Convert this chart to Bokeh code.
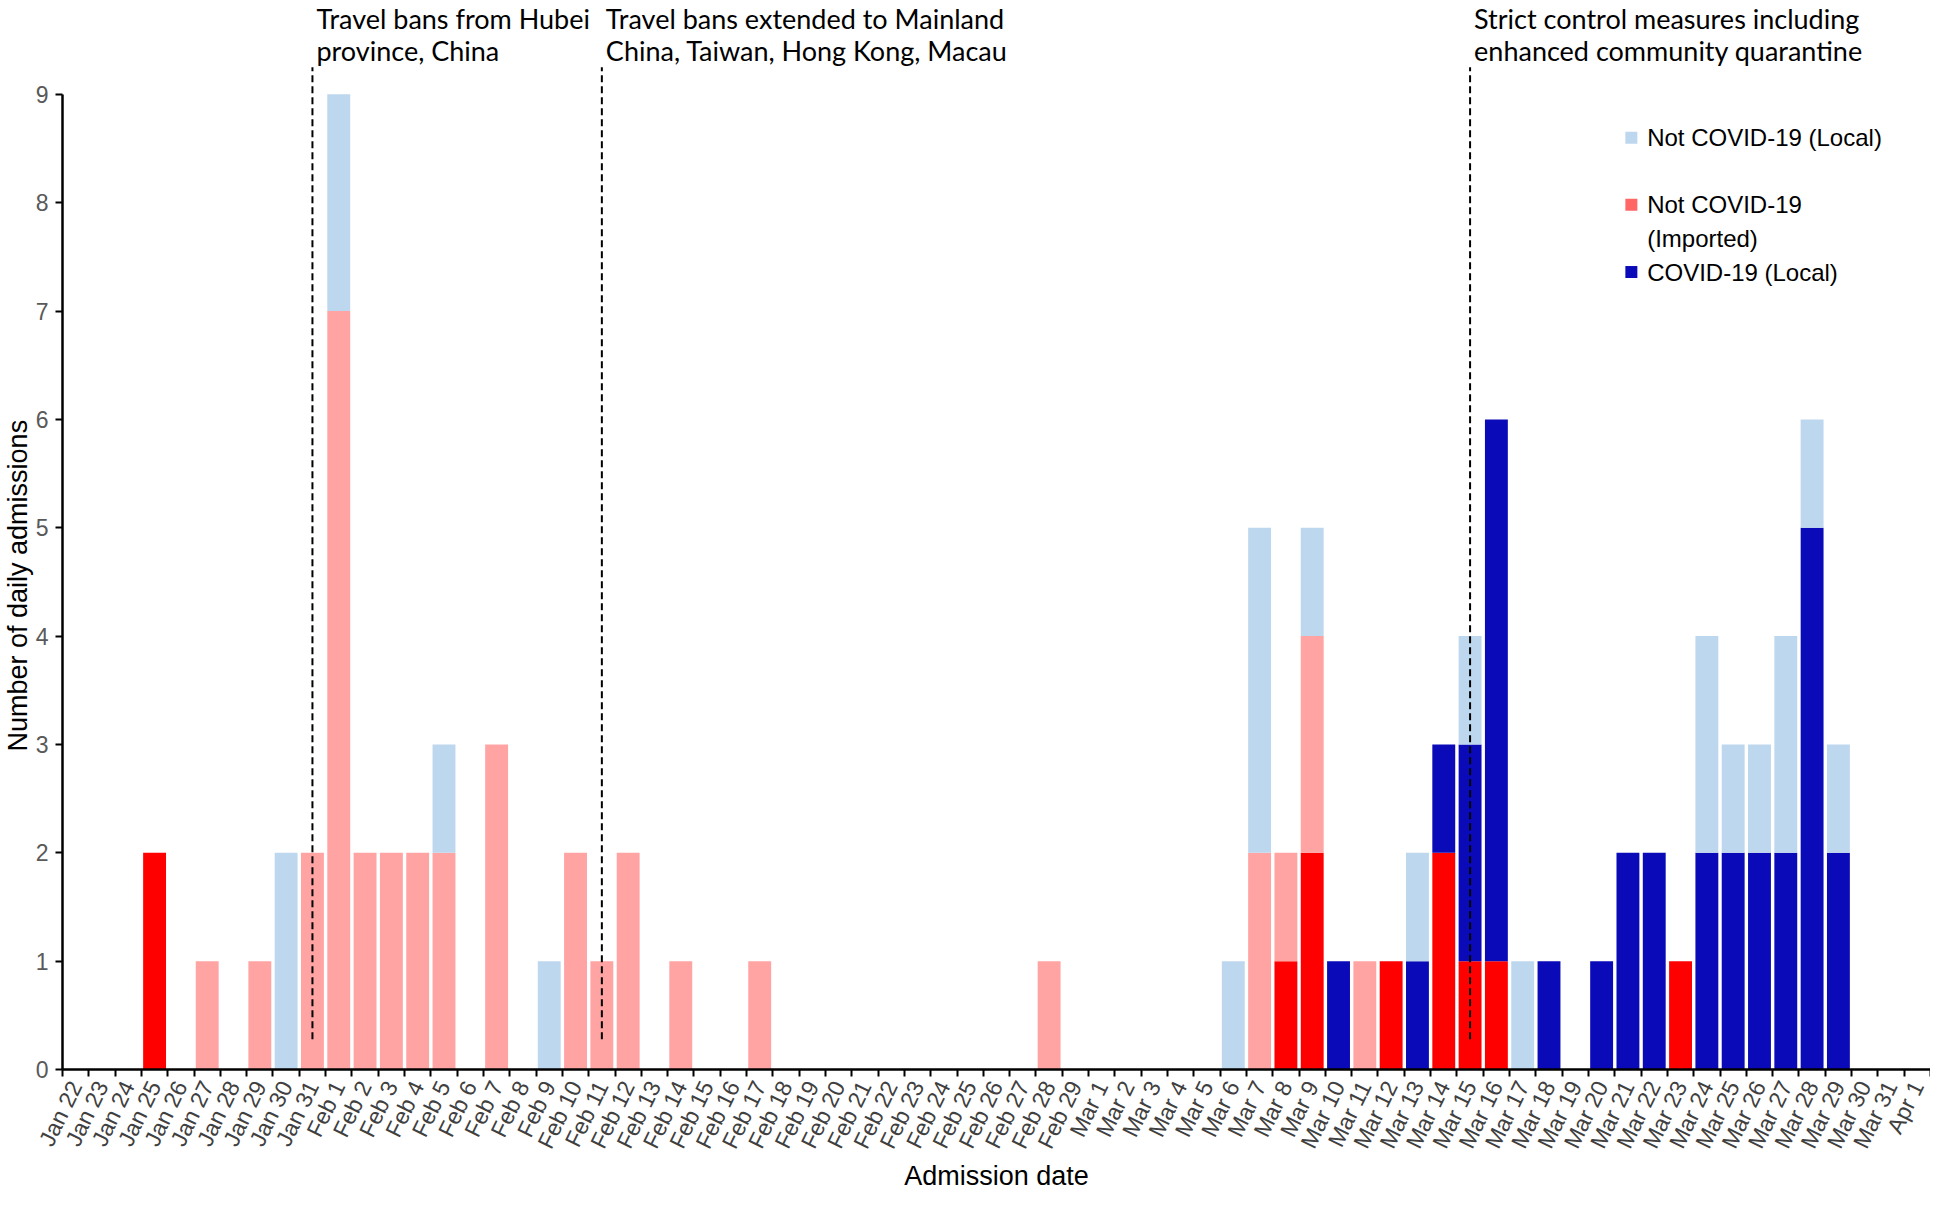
from bokeh.plotting import figure
from bokeh.models import Range1d, FixedTicker, ColumnDataSource, Title
from bokeh.core.properties import value
from bokeh.embed import file_html
from bokeh.resources import INLINE

# ---------------- data ----------------
dates = [
    "Jan 22", "Jan 23", "Jan 24", "Jan 25", "Jan 26", "Jan 27", "Jan 28", "Jan 29", "Jan 30", "Jan 31",
    "Feb 1", "Feb 2", "Feb 3", "Feb 4", "Feb 5", "Feb 6", "Feb 7", "Feb 8", "Feb 9", "Feb 10",
    "Feb 11", "Feb 12", "Feb 13", "Feb 14", "Feb 15", "Feb 16", "Feb 17", "Feb 18", "Feb 19", "Feb 20",
    "Feb 21", "Feb 22", "Feb 23", "Feb 24", "Feb 25", "Feb 26", "Feb 27", "Feb 28", "Feb 29",
    "Mar 1", "Mar 2", "Mar 3", "Mar 4", "Mar 5", "Mar 6", "Mar 7", "Mar 8", "Mar 9", "Mar 10",
    "Mar 11", "Mar 12", "Mar 13", "Mar 14", "Mar 15", "Mar 16", "Mar 17", "Mar 18", "Mar 19", "Mar 20",
    "Mar 21", "Mar 22", "Mar 23", "Mar 24", "Mar 25", "Mar 26", "Mar 27", "Mar 28", "Mar 29", "Mar 30",
    "Mar 31", "Apr 1",
]

# counts per admission date (dates not listed = 0)
imported_red = {"Jan 25": 2, "Mar 8": 1, "Mar 9": 2, "Mar 12": 1, "Mar 14": 2,
                "Mar 15": 1, "Mar 16": 1, "Mar 23": 1}
imported_pink = {"Jan 27": 1, "Jan 29": 1, "Jan 31": 2, "Feb 1": 7, "Feb 2": 2, "Feb 3": 2,
                 "Feb 4": 2, "Feb 5": 2, "Feb 7": 3, "Feb 10": 2, "Feb 11": 1, "Feb 12": 2,
                 "Feb 14": 1, "Feb 17": 1, "Feb 28": 1, "Mar 7": 2, "Mar 8": 1, "Mar 9": 2,
                 "Mar 11": 1}
covid_local = {"Mar 10": 1, "Mar 13": 1, "Mar 14": 1, "Mar 15": 2, "Mar 16": 5, "Mar 18": 1,
               "Mar 20": 1, "Mar 21": 2, "Mar 22": 2, "Mar 24": 2, "Mar 25": 2, "Mar 26": 2,
               "Mar 27": 2, "Mar 28": 5, "Mar 29": 2}
not_covid_local = {"Jan 30": 2, "Feb 1": 2, "Feb 5": 1, "Feb 9": 1, "Mar 6": 1, "Mar 7": 3,
                   "Mar 9": 1, "Mar 13": 1, "Mar 15": 1, "Mar 17": 1, "Mar 24": 2, "Mar 25": 1,
                   "Mar 26": 1, "Mar 27": 2, "Mar 28": 1, "Mar 29": 1}

event_dates = ["Jan 31", "Feb 11", "Mar 15"]
event_lines = [
    ["Travel bans from Hubei", "province, China"],
    ["Travel bans extended to Mainland", "China, Taiwan, Hong Kong, Macau"],
    ["Strict control measures including", "enhanced community quarantine"],
]

legend_labels = [["Not COVID-19 (Local)"], ["Not COVID-19", "(Imported)"], ["COVID-19 (Local)"]]
legend_colors = ["#BDD7EE", "#FF6666", "#0A0AB8"]

# ---------------- build ----------------
n = len(dates)
xs = [i + 0.5 for i in range(n)]
src = ColumnDataSource(dict(
    x=xs,
    red=[imported_red.get(d, 0) for d in dates],
    pink=[imported_pink.get(d, 0) for d in dates],
    dblue=[covid_local.get(d, 0) for d in dates],
    lblue=[not_covid_local.get(d, 0) for d in dates],
))

p = figure(width=1930, height=1194, x_range=Range1d(0, n), y_range=Range1d(0, 9.866),
           output_backend="svg", toolbar_location=None,
           min_border_top=0, min_border_right=0, min_border_left=0, min_border_bottom=0)
p.outline_line_color = None
p.grid.visible = False
p.background_fill_color = "white"

p.vbar_stack(["red", "pink", "dblue", "lblue"], x="x", width=0.87,
             color=["#FF0000", "#FFA3A3", "#0A0AB8", "#BDD7EE"],
             line_color=None, source=src)

# dashed event lines
ev_x = [dates.index(d) + 0.5 for d in event_dates]
p.segment(x0=ev_x, x1=ev_x, y0=[0.28] * 3, y1=[9.25] * 3,
          line_color="black", line_width=2, line_dash="7 4")

# event annotations
ax, ay, at = [], [], []
for x, lines in zip(ev_x, event_lines):
    for k, t in enumerate(lines):
        ax.append(x)
        ay.append(9.70 - 0.295 * k)
        at.append(t)
p.text(x=ax, y=ay, text=at, x_offset=4, text_font=value("Lato"), text_font_size="27px",
       text_color="black", text_baseline="alphabetic", text_align="left")

# legend (drawn manually to match layout)
leg_y = [[8.60], [7.98, 7.67], [7.36]]
mx, my, mc, tx, ty, tt = [], [], [], [], [], []
for labs, ys, c in zip(legend_labels, leg_y, legend_colors):
    mx.append(59.63)
    my.append(ys[0])
    mc.append(c)
    for lab, yy in zip(labs, ys):
        tx.append(60.23)
        ty.append(yy)
        tt.append(lab)
p.scatter(x=mx, y=my, marker="square", size=12, color=mc, line_color=None)
p.text(x=tx, y=ty, text=tt, text_font=value("Liberation Sans"), text_font_size="24px",
       text_color="black", text_baseline="middle", text_align="left")

# x axis
xa = p.xaxis[0]
xa.ticker = FixedTicker(ticks=xs, minor_ticks=list(range(n + 1)))
xa.major_label_overrides = {x: d for x, d in zip(xs, dates)}
xa.major_label_orientation = 1.117
xa.major_tick_line_color = None
xa.major_tick_out = 7
xa.minor_tick_line_color = "black"
xa.minor_tick_line_width = 2
xa.minor_tick_out = 7
xa.minor_tick_in = 0
xa.axis_line_width = 2.5
xa.axis_line_color = "black"
xa.bounds = (0, n)
xa.major_label_text_font = "Liberation Sans"
xa.major_label_text_font_style = "normal"
xa.major_label_text_font_size = "23px"
xa.major_label_text_color = "#404040"
xa.major_label_standoff = 6
xa.axis_label = "Admission date"
xa.axis_label_text_font = "Liberation Sans"
xa.axis_label_text_font_style = "normal"
xa.axis_label_text_font_size = "27px"
xa.axis_label_text_color = "black"
xa.axis_label_standoff = 0

# y axis
ya = p.yaxis[0]
ya.ticker = FixedTicker(ticks=list(range(10)))
ya.bounds = (0, 9)
ya.major_tick_line_color = "black"
ya.major_tick_line_width = 2
ya.major_tick_out = 7
ya.major_tick_in = 0
ya.minor_tick_line_color = None
ya.axis_line_width = 2.5
ya.axis_line_color = "black"
ya.major_label_text_font = "Liberation Sans"
ya.major_label_text_font_size = "23px"
ya.major_label_text_color = "#595959"
ya.major_label_standoff = 7

# y axis title, placed alongside the 0-9 span of the axis
p.add_layout(Title(text="Number of daily admissions", align="left", offset=318,
                   standoff=0, text_font="Liberation Sans", text_font_size="27px",
                   text_font_style="normal", text_color="black"), "left")

open("out.html", "w").write(file_html(p, INLINE))
